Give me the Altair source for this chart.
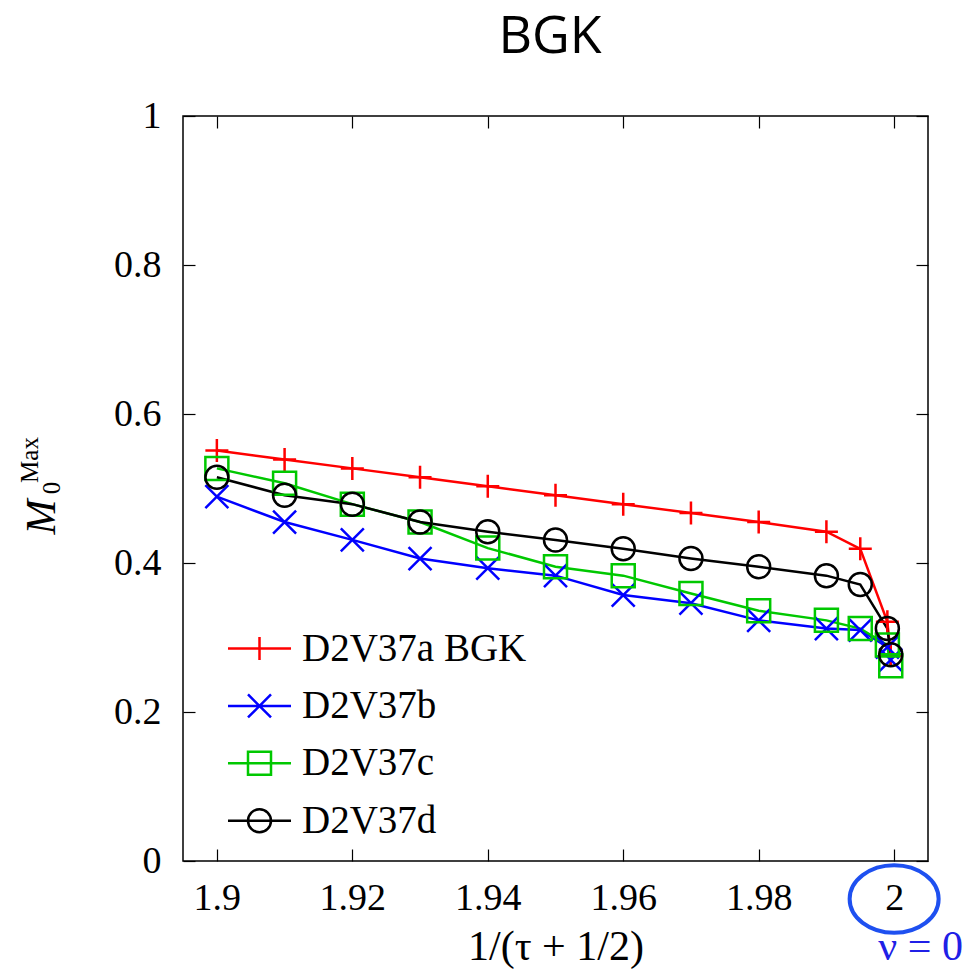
import altair as alt
import pandas as pd

# ---------------- data ----------------
x_vals = [1.9, 1.91, 1.92, 1.93, 1.94, 1.95, 1.96, 1.97, 1.98, 1.99, 1.995, 1.999, 1.9995]
series_names = ["D2V37a BGK", "D2V37b", "D2V37c", "D2V37d"]
m_a = [0.551, 0.539, 0.527, 0.515, 0.503, 0.491, 0.479, 0.467, 0.455, 0.442, 0.419, 0.321, 0.276]
m_b = [0.489, 0.455, 0.431, 0.406, 0.393, 0.383, 0.357, 0.346, 0.323, 0.312, 0.310, 0.287, 0.270]
m_c = [0.527, 0.507, 0.479, 0.455, 0.420, 0.395, 0.383, 0.359, 0.336, 0.323, 0.312, 0.290, 0.262]
m_d = [0.515, 0.491, 0.479, 0.455, 0.442, 0.431, 0.419, 0.406, 0.395, 0.383, 0.371, 0.312, 0.277]
x_ticks = [1.9, 1.92, 1.94, 1.96, 1.98, 2.0]
y_ticks = [0, 0.2, 0.4, 0.6, 0.8, 1.0]
highlight_x = [2.0]
annotation_text = ["ν = 0"]
title_text = ["BGK"]
x_title = "1/(τ + 1/2)"
y_title_parts = ["M", "Max", "0"]

# ---------------- styles ----------------
colors = ["#ff0000", "#0000ff", "#00c800", "#000000"]
marker_paths = [
    "M-1,0L1,0M0,-1L0,1",
    "M-1,-1L1,1M-1,1L1,-1",
    "M-1,-1L1,-1L1,1L-1,1Z",
    "M1,0A1,1 0 1,1 -1,0A1,1 0 1,1 1,0Z",
]
legend_paths = [
    "M-2.74,0L2.74,0M0,-1L0,1",
    "M-2.74,0L2.74,0M-1,-1L1,1M-1,1L1,-1",
    "M-2.74,0L2.74,0M-1,-1L1,-1L1,1L-1,1Z",
    "M-2.74,0L2.74,0M1,0A1,1 0 1,1 -1,0A1,1 0 1,1 1,0Z",
]
ellipse_path = "M-1,0A1,0.76 0 1,1 1,0A1,0.76 0 1,1 -1,0Z"
SERIF = "Liberation Serif"

rows = []
for name, vals in zip(series_names, [m_a, m_b, m_c, m_d]):
    for i, (xv, yv) in enumerate(zip(x_vals, vals)):
        rows.append({"x": xv, "m": yv, "series": name, "order": i})
df = pd.DataFrame(rows)

xscale = alt.Scale(domain=[1.895, 2.005], nice=False, zero=False)
yscale = alt.Scale(domain=[0, 1], nice=False, zero=False)

common_axis = dict(offset=-12, tickSize=12, domain=False, grid=False,
                   tickColor="black", tickWidth=1.2,
                   labelFont=SERIF, labelFontSize=38, labelColor="black")

x_bottom = alt.Axis(orient="bottom", values=x_ticks, format="~g", labelPadding=18,
                    title=x_title, titleFont=SERIF, titleFontSize=42,
                    titleFontWeight="normal", titleColor="black", titlePadding=9,
                    **common_axis)
x_top = alt.Axis(orient="top", values=x_ticks, labels=False, title=None, **common_axis)
y_left = alt.Axis(orient="left", values=y_ticks, format="~g", labelPadding=22,
                  title=None, **common_axis)
y_right = alt.Axis(orient="right", values=y_ticks, labels=False, title=None, **common_axis)

color_scale = alt.Scale(domain=series_names, range=colors)

base = alt.Chart(df)

lines = base.mark_line(strokeWidth=2.5).encode(
    x=alt.X("x:Q", scale=xscale, axis=x_bottom),
    y=alt.Y("m:Q", scale=yscale, axis=y_left),
    color=alt.Color("series:N", scale=color_scale, legend=None),
    order="order:Q",
)

points = base.mark_point(filled=False, strokeWidth=2.5, size=529, opacity=1).encode(
    x=alt.X("x:Q", scale=xscale, axis=x_top),
    y=alt.Y("m:Q", scale=yscale, axis=y_right),
    color=alt.Color("series:N", scale=color_scale, legend=None),
    shape=alt.Shape("series:N", scale=alt.Scale(domain=series_names, range=marker_paths), legend=None),
)

leg_props = dict(orient="none", legendX=37, legendY=513, title=None, padding=0,
                 symbolSize=529, symbolStrokeWidth=2.5, symbolOffset=20,
                 labelOffset=23, labelFont=SERIF, labelFontSize=39, labelColor="black",
                 labelLimit=500, rowPadding=17.4, symbolOpacity=1)

legend_layer = base.mark_point(filled=False, strokeWidth=2.5, opacity=0).encode(
    x=alt.X("x:Q", scale=xscale, axis=None),
    y=alt.Y("m:Q", scale=yscale, axis=None),
    color=alt.Color("series:N", scale=color_scale, legend=alt.Legend(**leg_props)),
    shape=alt.Shape("series:N", scale=alt.Scale(domain=series_names, range=legend_paths),
                    legend=alt.Legend(**leg_props)),
)

ellipse = alt.Chart(pd.DataFrame({"x": highlight_x})).mark_point(
    shape=ellipse_path, size=7921, strokeWidth=4, color="#1e50f0", filled=False,
    clip=False, opacity=1
).encode(
    x=alt.X("x:Q", scale=xscale, axis=None),
    y=alt.value(783),
)

nu_text = alt.Chart(pd.DataFrame({"t": annotation_text})).mark_text(
    font=SERIF, fontSize=42, align="right", baseline="alphabetic", color="#2020e6"
).encode(text="t:N", x=alt.value(780), y=alt.value(844))

title_mark = alt.Chart(pd.DataFrame({"t": title_text})).mark_text(
    font="Open Sans", fontSize=52, align="center", baseline="alphabetic", color="black"
).encode(text="t:N", x=alt.value(367), y=alt.value(-63))

ylab_m = alt.Chart(pd.DataFrame({"t": y_title_parts[:1]})).mark_text(
    font=SERIF, fontSize=42, fontStyle="italic", angle=270, align="center", baseline="middle", color="black"
).encode(text="t:N", x=alt.value(-141), y=alt.value(401))
ylab_max = alt.Chart(pd.DataFrame({"t": y_title_parts[1:2]})).mark_text(
    font=SERIF, fontSize=25, angle=270, align="center", baseline="middle", color="black"
).encode(text="t:N", x=alt.value(-153), y=alt.value(344))
ylab_0 = alt.Chart(pd.DataFrame({"t": y_title_parts[2:]})).mark_text(
    font=SERIF, fontSize=25, angle=270, align="center", baseline="middle", color="black"
).encode(text="t:N", x=alt.value(-131), y=alt.value(372))

chart = alt.layer(
    lines, points, legend_layer, ellipse, nu_text, title_mark, ylab_m, ylab_max, ylab_0
).resolve_scale(
    color="independent", shape="independent"
).resolve_axis(
    x="independent", y="independent"
).properties(
    width=745, height=745,
    padding={"left": 175, "top": 108, "right": 36, "bottom": 110},
    autosize=alt.AutoSizeParams(type="none"),
).configure_view(stroke="black", strokeWidth=1.5)

chart.save("out.html", embed_options={"renderer": "svg", "actions": False})
